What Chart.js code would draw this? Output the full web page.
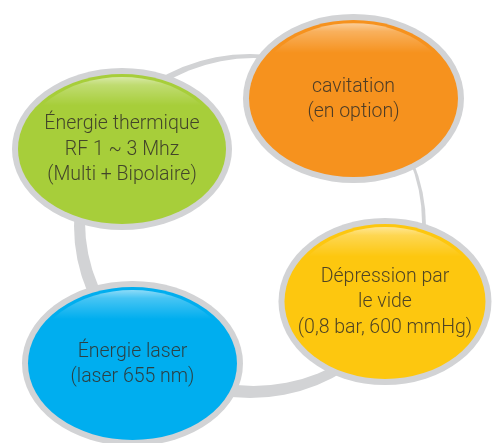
<!DOCTYPE html>
<html>
<head>
<meta charset="utf-8">
<script src="https://cdn.jsdelivr.net/npm/chart.js@4/dist/chart.umd.min.js"></script>
<style>
  html, body { margin: 0; padding: 0; background: #ffffff; }
  #wrap { width: 492px; height: 443px; position: relative; }
</style>
</head>
<body>
<div id="wrap"><canvas id="c" width="492" height="443"></canvas></div>
<script>
// ---- Data (diagram units: x 0..492, y 0..443 from top) ----
const categories = [
  ['Énergie thermique', 'RF 1 ~ 3 Mhz', '(Multi + Bipolaire)'],
  ['cavitation', '(en option)'],
  ['Dépression par', 'le vide', '(0,8 bar, 600 mmHg)'],
  ['Énergie laser', '(laser 655 nm)']
];
const centerX = [122, 353.5, 385, 132.5];
const centerY = [149, 98.5, 301.5, 363.5];
const radiusX = [110, 110.5, 106.5, 110.5];
const radiusY = [81, 84.5, 83.5, 82.5];

// connecting ring: [outer edge, inner edge]
const ringCenterX = [250, 253.5];
const ringCenterY = [226, 222];
const ringRadiusX = [176, 168.5];
const ringRadiusY = [172, 164];

// ---- Styles ----
const fillColors = ['#a7ce3a', '#f6921e', '#fdc70f', '#00aeef'];
const borderColor = '#d2d3d5';
const ringColor = '#d2d3d5';
const borderWidth = 6;
const textColor = 'rgba(50,46,40,0.86)';
const fontSpec = '300 19.5px Roboto, Lato, "Liberation Sans", sans-serif';
const lineHeight = 25.5;

function ellipsePath(ctx, cx, cy, rx, ry) {
  ctx.beginPath();
  ctx.ellipse(cx, cy, Math.max(rx, 0), Math.max(ry, 0), 0, 0, Math.PI * 2);
  ctx.closePath();
}

const diagramPlugin = {
  id: 'diagram',
  beforeDatasetsDraw(chart) {
    const ctx = chart.ctx;
    const xs = chart.scales.x, ys = chart.scales.y;
    const px = v => xs.getPixelForValue(v);
    const py = v => ys.getPixelForValue(v);
    const sx = d => Math.abs(xs.getPixelForValue(d) - xs.getPixelForValue(0));
    const sy = d => Math.abs(ys.getPixelForValue(d) - ys.getPixelForValue(0));
    ctx.save();
    // ring: outer gray, inner white
    ellipsePath(ctx, px(ringCenterX[0]), py(ringCenterY[0]), sx(ringRadiusX[0]), sy(ringRadiusY[0]));
    ctx.fillStyle = ringColor;
    ctx.fill();
    ellipsePath(ctx, px(ringCenterX[1]), py(ringCenterY[1]), sx(ringRadiusX[1]), sy(ringRadiusY[1]));
    ctx.fillStyle = '#ffffff';
    ctx.fill();

    const meta = chart.getDatasetMeta(0);
    meta.data.forEach((pt, i) => {
      const cx = pt.x, cy = pt.y;
      const rx = sx(radiusX[i]), ry = sy(radiusY[i]);
      // gray border
      ellipsePath(ctx, cx, cy, rx, ry);
      ctx.fillStyle = borderColor;
      ctx.fill();
      // colored body
      const irx = rx - borderWidth, iry = ry - borderWidth;
      ellipsePath(ctx, cx, cy, irx, iry);
      ctx.fillStyle = fillColors[i];
      ctx.fill();
      // gloss highlight
      ctx.save();
      ellipsePath(ctx, cx, cy, irx, iry);
      ctx.clip();
      const top = cy - iry;
      const g = ctx.createLinearGradient(0, top, 0, top + iry * 0.42);
      g.addColorStop(0, 'rgba(255,255,255,0.65)');
      g.addColorStop(0.35, 'rgba(255,255,255,0.28)');
      g.addColorStop(1, 'rgba(255,255,255,0)');
      ellipsePath(ctx, cx, cy + iry * 0.02, irx * 0.97, iry * 0.98);
      ctx.fillStyle = g;
      ctx.fill();
      ctx.restore();
      // label text
      const lines = categories[i];
      ctx.fillStyle = textColor;
      ctx.font = fontSpec;
      ctx.textAlign = 'center';
      ctx.textBaseline = 'middle';
      const n = lines.length;
      lines.forEach((ln, k) => {
        ctx.fillText(ln, cx, cy + 1 + (k - (n - 1) / 2) * lineHeight);
      });
    });
    ctx.restore();
  }
};

const points = centerX.map((x, i) => ({ x: x, y: centerY[i] }));

new Chart(document.getElementById('c'), {
  type: 'scatter',
  data: {
    datasets: [{
      data: points,
      pointRadius: 0,
      pointHoverRadius: 0,
      backgroundColor: 'rgba(0,0,0,0)'
    }]
  },
  options: {
    responsive: false,
    animation: false,
    events: [],
    layout: { padding: 0 },
    plugins: { legend: { display: false }, tooltip: { enabled: false } },
    scales: {
      x: { type: 'linear', min: 0, max: 492, display: false },
      y: { type: 'linear', min: 0, max: 443, reverse: true, display: false }
    }
  },
  plugins: [diagramPlugin]
});
</script>
</body>
</html>
